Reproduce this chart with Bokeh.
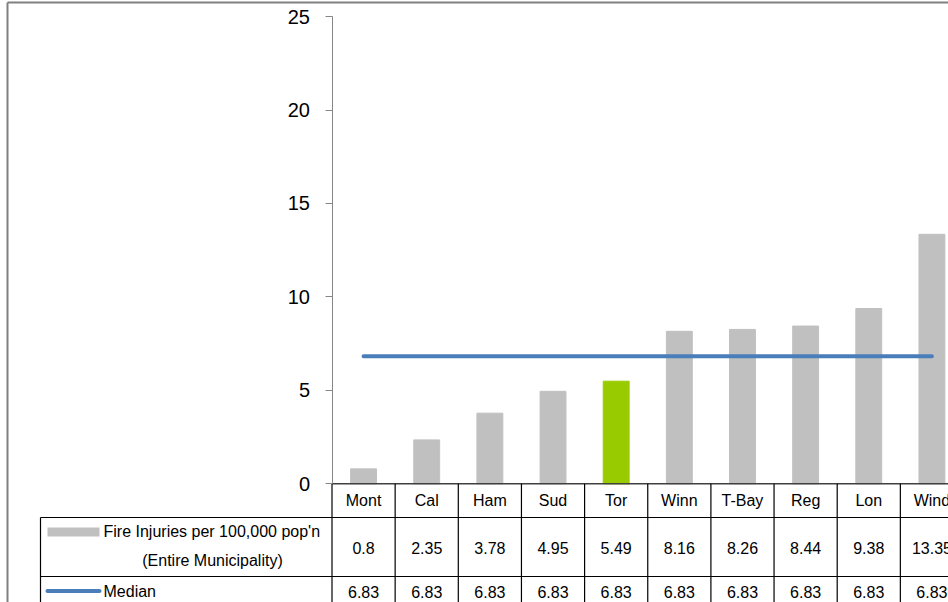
from bokeh.plotting import figure
from bokeh.models import LinearAxis, FixedTicker, ColumnDataSource, Range1d
from bokeh.core.properties import value
from bokeh.embed import file_html
from bokeh.resources import INLINE

# ---- data ----
cities = ["Mont", "Cal", "Ham", "Sud", "Tor", "Winn", "T-Bay", "Reg", "Lon", "Wind"]
injuries = [0.8, 2.35, 3.78, 4.95, 5.49, 8.16, 8.26, 8.44, 9.38, 13.35]
median = [6.83, 6.83, 6.83, 6.83, 6.83, 6.83, 6.83, 6.83, 6.83, 6.83]
y_ticks = [0, 5, 10, 15, 20, 25]
series_label_1 = "Fire Injuries per 100,000 pop'n"
series_label_2 = "(Entire Municipality)"
median_label = "Median"
highlight = "Tor"

# ---- layout geometry (pixels) ----
W, H = 948, 602
X0PIX = 331.5      # pixel of category-axis start
COLW = 63.15       # pixels per category
Y0PIX = 483.3      # pixel of value 0
PXU = 18.69        # pixels per value unit

def px(pix):
    return (pix - X0PIX) / COLW

def py(pix):
    return (Y0PIX - pix) / PXU

FONT = value("Liberation Sans")
TFS = "16px"
GRAY = "#C0C0C0"
GREEN = "#99CC00"
BLUE = "#4A7EBB"

p = figure(width=W, height=H, output_backend="svg", toolbar_location=None,
           x_axis_location=None, y_axis_location=None,
           x_range=Range1d(px(0), px(W)), y_range=Range1d(py(H), py(0)),
           min_border=0, outline_line_color=None,
           background_fill_color="white", border_fill_color="white")
p.grid.visible = False

n = len(cities)
centers = [i + 0.5 for i in range(n)]
colors = [GREEN if c == highlight else GRAY for c in cities]

src = ColumnDataSource(dict(x=centers, top=injuries, color=colors, city=cities,
                            val=[str(v) for v in injuries],
                            med=[f"{m:.2f}" for m in median], median=median))
# bars
p.vbar(x="x", top="top", bottom=0, width=0.41, color="color", source=src)

# median line
p.line(x="x", y="median", source=src, line_color=BLUE, line_width=4, line_cap="round")

# y axis
ax = LinearAxis(fixed_location=0, ticker=FixedTicker(ticks=y_ticks), bounds=(0, 25),
                major_tick_in=0, major_tick_out=7, minor_tick_in=0, minor_tick_out=0,
                major_label_standoff=15, axis_line_color="#868686", major_tick_line_color="#868686",
                major_label_text_font="Liberation Sans",
                major_label_text_font_size="20px", major_label_text_color="black")
p.add_layout(ax, "left")

# ---- data table ----
y_top = 0
y_hdr = py(517)
y_mid = py(576)
y_bot = py(H)
x_leg = px(40)
x_right = px(W)

# category axis line
p.segment(x0=[0], y0=[0], x1=[x_right], y1=[0], line_color="#404040", line_width=1.5)
# vertical column lines
bounds_x = list(range(n + 1))
p.segment(x0=bounds_x, y0=[y_top] * len(bounds_x), x1=bounds_x, y1=[y_bot] * len(bounds_x),
          line_color="black", line_width=1.2)
# legend column left line
p.segment(x0=[x_leg], y0=[y_hdr], x1=[x_leg], y1=[y_bot], line_color="black", line_width=1.2)
# horizontal lines
p.segment(x0=[x_leg, x_leg], y0=[y_hdr, y_mid], x1=[x_right, x_right], y1=[y_hdr, y_mid],
          line_color="black", line_width=1.2)

# header names
p.text(x="x", y=py(500), text="city", source=src, text_font=FONT, text_font_size=TFS,
       text_align="center", text_baseline="middle", text_color="black")
# values
p.text(x="x", y=py(547), text="val", source=src, text_font=FONT, text_font_size=TFS,
       text_align="center", text_baseline="middle", text_color="black")
p.text(x="x", y=py(591), text="med", source=src, text_font=FONT, text_font_size=TFS,
       text_align="center", text_baseline="middle", text_color="black")

# legend keys
p.quad(left=[px(47)], right=[px(99)], top=[py(527)], bottom=[py(536)], color=GRAY, line_color=None)
p.line(x=[px(47), px(99)], y=[py(590.5)] * 2, line_color=BLUE, line_width=4, line_cap="round")
p.text(x=[px(103)], y=[py(531)], text=[series_label_1], text_font=FONT, text_font_size=TFS,
       text_align="left", text_baseline="middle", text_color="black")
p.text(x=[px(212)], y=[py(560)], text=[series_label_2], text_font=FONT, text_font_size=TFS,
       text_align="center", text_baseline="middle", text_color="black")
p.text(x=[px(103)], y=[py(591)], text=[median_label], text_font=FONT, text_font_size=TFS,
       text_align="left", text_baseline="middle", text_color="black")

# chart-area border (top and left visible)
p.segment(x0=[px(7), px(7)], y0=[py(2), py(2)], x1=[px(7), x_right], y1=[py(H), py(2)],
          line_color="#808080", line_width=2)

open("out.html", "w").write(file_html(p, INLINE))
